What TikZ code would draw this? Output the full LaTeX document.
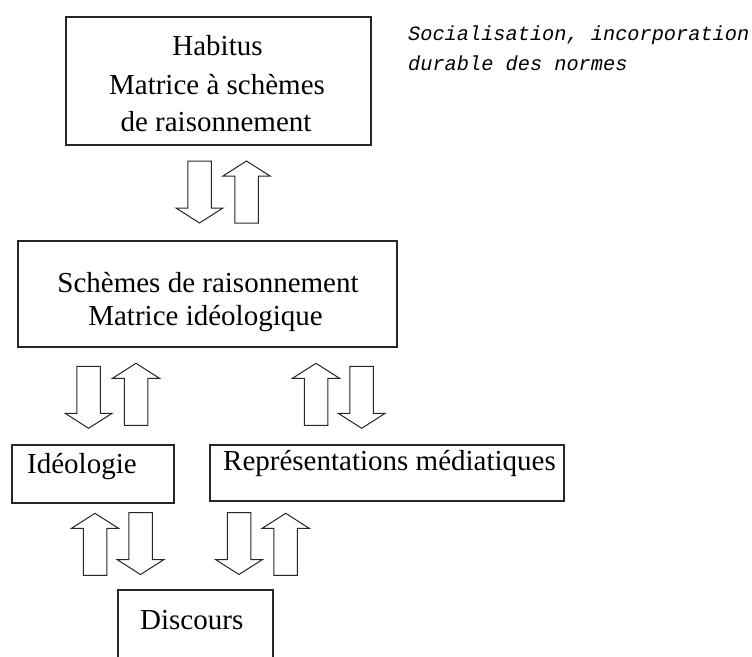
\documentclass[tikz,border=0pt]{standalone}
\usepackage{fontspec}
\setmainfont{Liberation Serif}
\newfontfamily\notefont{Liberation Mono}
\begin{document}
\begin{tikzpicture}[x=1pt,y=-1pt,
  box/.style={draw=black!85, line width=1.5pt, inner sep=0pt, anchor=north west},
  lbl/.style={font=\fontsize{29}{34}\selectfont, inner sep=0pt, anchor=base},
  lblw/.style={lbl, anchor=base west},
  note/.style={font=\notefont\itshape\fontsize{20.3}{24}\selectfont, inner sep=0pt, anchor=base west},
  arrowline/.style={draw=black!85, line width=1pt, line join=miter, fill=white},
  uparr/.pic={\path[arrowline] (0,0) -- (23.5,15) -- (11.75,15) -- (11.75,62) -- (-11.75,62) -- (-11.75,15) -- (-23.5,15) -- cycle;},
  downarr/.pic={\path[arrowline] (0,0) -- (23.5,-15) -- (11.75,-15) -- (11.75,-62) -- (-11.75,-62) -- (-11.75,-15) -- (-23.5,-15) -- cycle;}
]
\useasboundingbox (0,0) rectangle (752,656);
\clip (0,0) rectangle (752,656);
\fill[white] (0,0) rectangle (752,656);

% boxes
\node[box, minimum width=305pt, minimum height=128pt] (hab) at (65,16) {};
\node[box, minimum width=379pt, minimum height=106pt] (sch) at (17,240) {};
\node[box, minimum width=162pt, minimum height=58pt] (ideo) at (11,444) {};
\node[box, minimum width=354pt, minimum height=56pt] (rep) at (209,444) {};
\node[box, minimum width=155pt, minimum height=75pt] (disc) at (117,589) {};

% texts
\node[lbl] (t1) at (217.5,55) {Habitus};
\node[lbl] (t2) at (217,94.5) {Matrice à schèmes};
\node[lbl] (t3) at (216,131.7) {de raisonnement};
\node[lbl] (t4) at (208,292.5) {Schèmes de raisonnement};
\node[lbl] (t5) at (205.5,325) {Matrice idéologique};
\node[lblw] (t6) at (27,473) {Idéologie};
\node[lblw] (t7) at (223,470) {Représentations médiatiques};
\node[lblw] (t8) at (140,629) {Discours};
\node[note] (n1) at (408,40.5) {Socialisation, incorporation};
\node[note] (n2) at (408,70) {durable des normes};

% block arrows
\pic (a1) at (199.5,223) {downarr};
\pic (a2) at (246.5,161) {uparr};
\pic (a3) at (88.6,428.3) {downarr};
\pic (a4) at (136,363.3) {uparr};
\pic (a5) at (316,363.3) {uparr};
\pic (a6) at (361.7,428.3) {downarr};
\pic (a7) at (95,513.3) {uparr};
\pic (a8) at (140.5,574.5) {downarr};
\pic (a9) at (239,574.5) {downarr};
\pic (a10) at (285.7,513.3) {uparr};
\end{tikzpicture}
\end{document}
